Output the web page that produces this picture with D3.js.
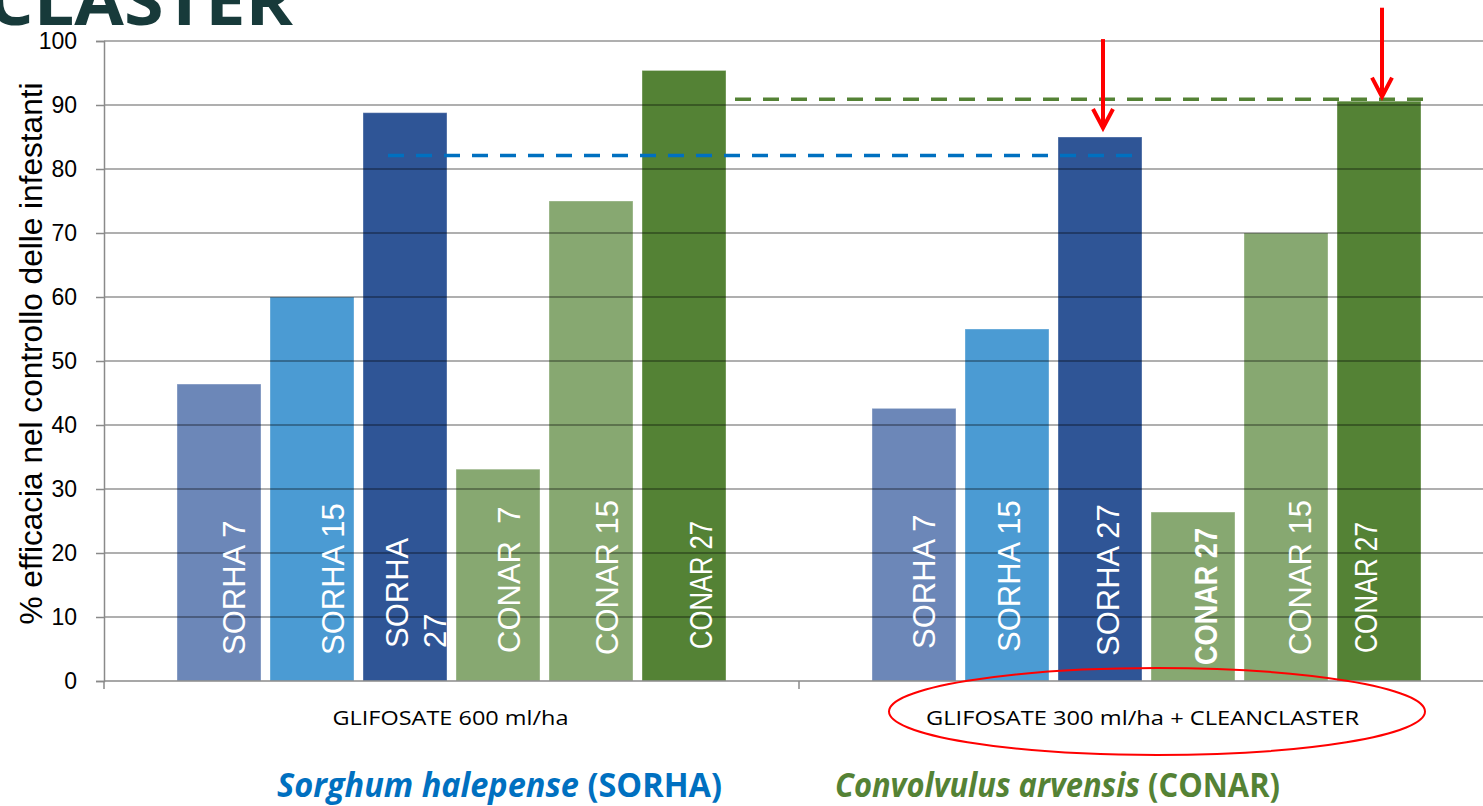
<!DOCTYPE html>
<html><head><meta charset="utf-8">
<script src="https://cdn.jsdelivr.net/npm/d3@7"></script>
<style>html,body{margin:0;padding:0;background:#fff;overflow:hidden}</style>
</head><body>
<svg id="c" width="1483" height="806"></svg>
<script>
// ---- data ----
const groups = ["GLIFOSATE 600 ml/ha", "GLIFOSATE 300 ml/ha + CLEANCLASTER"];
const series = ["SORHA 7", "SORHA 15", "SORHA 27", "CONAR 7", "CONAR 15", "CONAR 27"];
const values600 = [46.4, 60, 88.8, 33.1, 75, 95.4];
const values300 = [42.6, 55, 85, 26.4, 70, 90.6];
const labels600 = [["SORHA 7"], ["SORHA 15"], ["SORHA", "27"], ["CONAR  7"], ["CONAR 15"], ["CONAR 27"]];
const labels300 = [["SORHA 7"], ["SORHA 15"], ["SORHA 27"], ["CONAR 27"], ["CONAR 15"], ["CONAR 27"]];
const yTicks = [0, 10, 20, 30, 40, 50, 60, 70, 80, 90, 100];
const refSorha = 82.1, refConar = 90.9;
const arrowTips = [86.4, 91.3];
const arrowTops = [100.3, 105.2];

// ---- style ----
const colors = ["#6c87b8", "#4b9bd3", "#2f5596", "#87a871", "#87a871", "#548235"];
const labelPos600 = [0.68, 0.75, 0.40, 0.63, 0.69, 0.70];
const labelPos300 = [0.62, 0.52, 0.59, 0.65, 0.66, 0.34];
const labelSize600 = [31, 31, 31, 31, 31, 31];
const labelSize300 = [31, 31, 31, 31, 31, 31];
const labelLen600 = [null, null, null, null, null, 128];
const labelLen300 = [null, null, null, 137, null, 131];
const labelBottom600 = [655, 655, 648, 653, 655, 649];
const labelBottom300 = [649, 652, 656, 665, 655, 653];

const svg = d3.select("#c");
const y = d3.scaleLinear().domain([0, 100]).range([681, 41]);
const x0 = d3.scaleBand().domain(groups).range([104, 1494]);
const x1 = d3.scaleBand().domain(series).range([0, x0.bandwidth()]).paddingInner(0.097).paddingOuter(0.785);

// title (clipped at top)
svg.append("text").attr("x", 293).attr("y", 25).attr("text-anchor", "end")
  .attr("font-family", "Open Sans").attr("font-weight", 700).attr("font-size", 66)
  .attr("textLength", 540).attr("lengthAdjust", "spacingAndGlyphs")
  .attr("fill", "#173a3a").text("CLEANCLASTER");

// bars
const data = [values600, values300];
groups.forEach((g, gi) => {
  svg.append("g").selectAll("rect").data(series).enter().append("rect")
    .attr("x", s => x0(g) + x1(s))
    .attr("width", x1.bandwidth())
    .attr("y", (s, i) => y(data[gi][i]))
    .attr("height", (s, i) => y(0) - y(data[gi][i]))
    .attr("fill", (s, i) => colors[i])
    .attr("stroke", "#ffffff").attr("stroke-opacity", 0.35).attr("stroke-width", 1);
});

// gridlines (drawn over bars, translucent)
svg.append("g").selectAll("line").data(yTicks.filter(d => d > 0)).enter().append("line")
  .attr("x1", 104).attr("x2", 1483).attr("y1", d => y(d)).attr("y2", d => y(d))
  .attr("stroke", "#000").attr("stroke-opacity", 0.42).attr("stroke-width", 1.5);

// y axis
const yAxis = d3.axisLeft(y).tickValues(yTicks).tickSize(8).tickPadding(19);
const ya = svg.append("g").attr("transform", "translate(104,0)").call(yAxis);
ya.select(".domain").attr("stroke", "#8a8a8a").attr("stroke-width", 1.5);
ya.selectAll(".tick line").attr("stroke", "#8a8a8a").attr("stroke-width", 1.5);
ya.selectAll(".tick text").attr("font-family", "Liberation Sans, Arial").attr("font-size", 23).attr("fill", "#000");

// x axis
const xa = svg.append("g").attr("transform", "translate(0,681)");
xa.append("line").attr("x1", 104).attr("x2", 1483).attr("stroke", "#8a8a8a").attr("stroke-width", 1.5);
xa.selectAll("line.t").data([x0(groups[0]), x0(groups[1])]).enter().append("line")
  .attr("class", "t").attr("x1", d => d).attr("x2", d => d).attr("y1", 0).attr("y2", 8)
  .attr("stroke", "#8a8a8a").attr("stroke-width", 1.5);
const catLen = [236, 433];
groups.forEach((g, gi) => {
  xa.append("text").attr("x", x0(g) + x0.bandwidth() / 2 - 1 - gi * 3).attr("y", 44)
    .attr("text-anchor", "middle").attr("font-family", "Open Sans").attr("font-size", 20)
    .attr("textLength", catLen[gi]).attr("lengthAdjust", "spacingAndGlyphs")
    .attr("fill", "#000").text(g);
});

// y axis title
svg.append("text").attr("transform", "translate(42,353.5) rotate(-90)")
  .attr("text-anchor", "middle").attr("font-family", "Liberation Sans, Arial").attr("font-size", 31.6)
  .attr("fill", "#000").text("% efficacia nel controllo delle infestanti");

// bar labels
const labs = [labels600, labels300], lpos = [labelPos600, labelPos300], lsz = [labelSize600, labelSize300];
const llen = [labelLen600, labelLen300], lbot = [labelBottom600, labelBottom300];
groups.forEach((g, gi) => {
  series.forEach((s, i) => {
    const lines = labs[gi][i];
    const fs = lsz[gi][i];
    const bold = (gi === 1 && i === 3);
    const x = x0(g) + x1(s);
    const w = x1.bandwidth();
    lines.forEach((ln, li) => {
      const cx = x + w * (lines.length > 1 ? [0.40, 0.85][li] : lpos[gi][i]);
      const t = svg.append("text")
        .attr("transform", `translate(${cx + fs * 0.36},${lbot[gi][i]}) rotate(-90)`)
        .attr("font-family", "Liberation Sans, Arial")
        .attr("font-size", fs)
        .attr("font-weight", bold ? 700 : 400)
        .attr("fill", "#fff").style("white-space", "pre").text(ln);
      if (llen[gi][i]) t.attr("textLength", llen[gi][i]).attr("lengthAdjust", "spacingAndGlyphs");
    });
  });
});

// dashed reference lines
svg.append("line").attr("x1", 388).attr("x2", x0(groups[1]) + x1("SORHA 27") + x1.bandwidth())
  .attr("y1", y(refSorha)).attr("y2", y(refSorha))
  .attr("stroke", "#0070c0").attr("stroke-width", 3.5).attr("stroke-dasharray", "16,12");
svg.append("line").attr("x1", 735).attr("x2", 1432)
  .attr("y1", y(refConar)).attr("y2", y(refConar))
  .attr("stroke", "#548235").attr("stroke-width", 3.5).attr("stroke-dasharray", "16,12");

// red arrows
const arrowBars = ["SORHA 27", "CONAR 27"];
arrowBars.forEach((s, i) => {
  const ax = x0(groups[1]) + x1(s) + x1.bandwidth() / 2 + 3;
  const yt = y(arrowTips[i]), y0 = y(arrowTops[i]);
  svg.append("line").attr("x1", ax).attr("x2", ax).attr("y1", y0).attr("y2", yt - 2)
    .attr("stroke", "#ff0000").attr("stroke-width", 4);
  svg.append("path").attr("d", `M${ax - 10},${yt - 19} L${ax},${yt} L${ax + 10},${yt - 19}`)
    .attr("fill", "none").attr("stroke", "#ff0000").attr("stroke-width", 4).attr("stroke-linejoin", "miter");
});

// red ellipse
svg.append("ellipse").attr("cx", 1157).attr("cy", 711.5).attr("rx", 268).attr("ry", 43.5)
  .attr("fill", "none").attr("stroke", "#ff0000").attr("stroke-width", 2);

// bottom legend
const leg = [
  {it: "Sorghum halepense", rest: " (SORHA)", color: "#0070c0", x: 277, len: 445},
  {it: "Convolvulus arvensis", rest: " (CONAR)", color: "#548235", x: 835, len: 445}
];
leg.forEach(l => {
  const t = svg.append("text").attr("x", l.x).attr("y", 797)
    .attr("font-family", "Open Sans").attr("font-weight", 700).attr("font-size", 34)
    .attr("textLength", l.len).attr("lengthAdjust", "spacingAndGlyphs").attr("fill", l.color);
  t.append("tspan").attr("font-style", "italic").text(l.it);
  t.append("tspan").text(l.rest);
});
</script>
</body></html>
